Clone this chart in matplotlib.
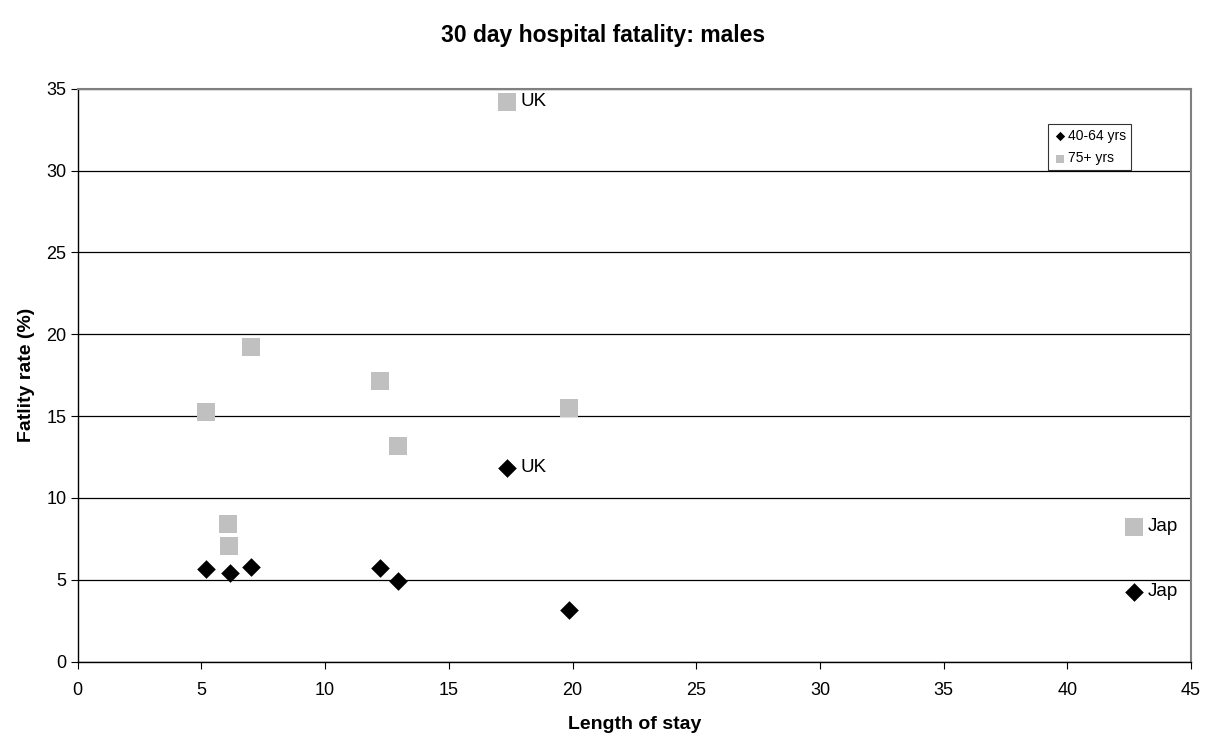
import matplotlib.pyplot as plt

plt.rcParams["font.family"] = ["Liberation Sans", "DejaVu Sans"]

# length of stay (days) and 30 day fatality (%) per country
stay_young = [5.2, 6.15, 7.0, 12.2, 12.95, 17.35, 19.85, 42.7]
fatal_young = [5.67, 5.43, 5.76, 5.70, 4.94, 11.83, 3.12, 4.28]
labels_young = ["", "", "", "", "", "UK", "", "Jap"]

stay_old = [5.2, 6.07, 6.13, 7.0, 12.2, 12.95, 17.35, 19.85, 42.7]
fatal_old = [15.27, 8.40, 7.08, 19.2, 17.16, 13.19, 34.2, 15.5, 8.25]
labels_old = ["", "", "", "", "", "", "UK", "", "Jap"]

fig = plt.figure(figsize=(12.06, 7.37), dpi=100)
ax = fig.add_axes([0.0644, 0.1024, 0.9232, 0.777])

ax.scatter(stay_young, fatal_young, marker="D", s=90, color="black",
           label="40-64 yrs", zorder=3, linewidths=0)
ax.scatter(stay_old, fatal_old, marker="s", s=150, color="#c0c0c0",
           label="75+ yrs", zorder=3, linewidths=0)

for x, y, name in zip(stay_young, fatal_young, labels_young):
    if name:
        ax.annotate(name, (x, y), xytext=(10, 0), textcoords="offset points",
                    va="center", fontsize=13.5)
for x, y, name in zip(stay_old, fatal_old, labels_old):
    if name:
        ax.annotate(name, (x, y), xytext=(10, 0), textcoords="offset points",
                    va="center", fontsize=13.5)

ax.set_xlim(0, 45)
ax.set_ylim(0, 35)
ax.set_xticks(range(0, 46, 5))
ax.set_yticks(range(0, 36, 5))
ax.tick_params(direction="out", length=5, labelsize=13)
ax.tick_params(axis="x", pad=10)
ax.tick_params(axis="y", pad=3)
ax.yaxis.grid(True, color="black", linewidth=0.9)
ax.set_axisbelow(True)

for side in ["top", "right"]:
    ax.spines[side].set_color("#808080")
    ax.spines[side].set_linewidth(1.5)
for side in ["left", "bottom"]:
    ax.spines[side].set_color("black")
    ax.spines[side].set_linewidth(1.0)

ax.set_xlabel("Length of stay", fontsize=14, fontweight="bold", labelpad=12)
ax.set_ylabel("Fatlity rate (%)", fontsize=14, fontweight="bold", labelpad=8)
fig.suptitle("30 day hospital fatality: males", fontsize=16.5, fontweight="bold", y=0.968)

leg = ax.legend(loc="upper left", bbox_to_anchor=(1048 / 1206, 1 - 124 / 737),
                bbox_transform=fig.transFigure, fontsize=10, frameon=True,
                fancybox=False, edgecolor="black", handletextpad=0.1,
                handlelength=1.0, borderpad=0.35, labelspacing=0.6,
                markerscale=0.5, borderaxespad=0)
leg.get_frame().set_linewidth(0.8)

fig.savefig("out.png", dpi=100)
